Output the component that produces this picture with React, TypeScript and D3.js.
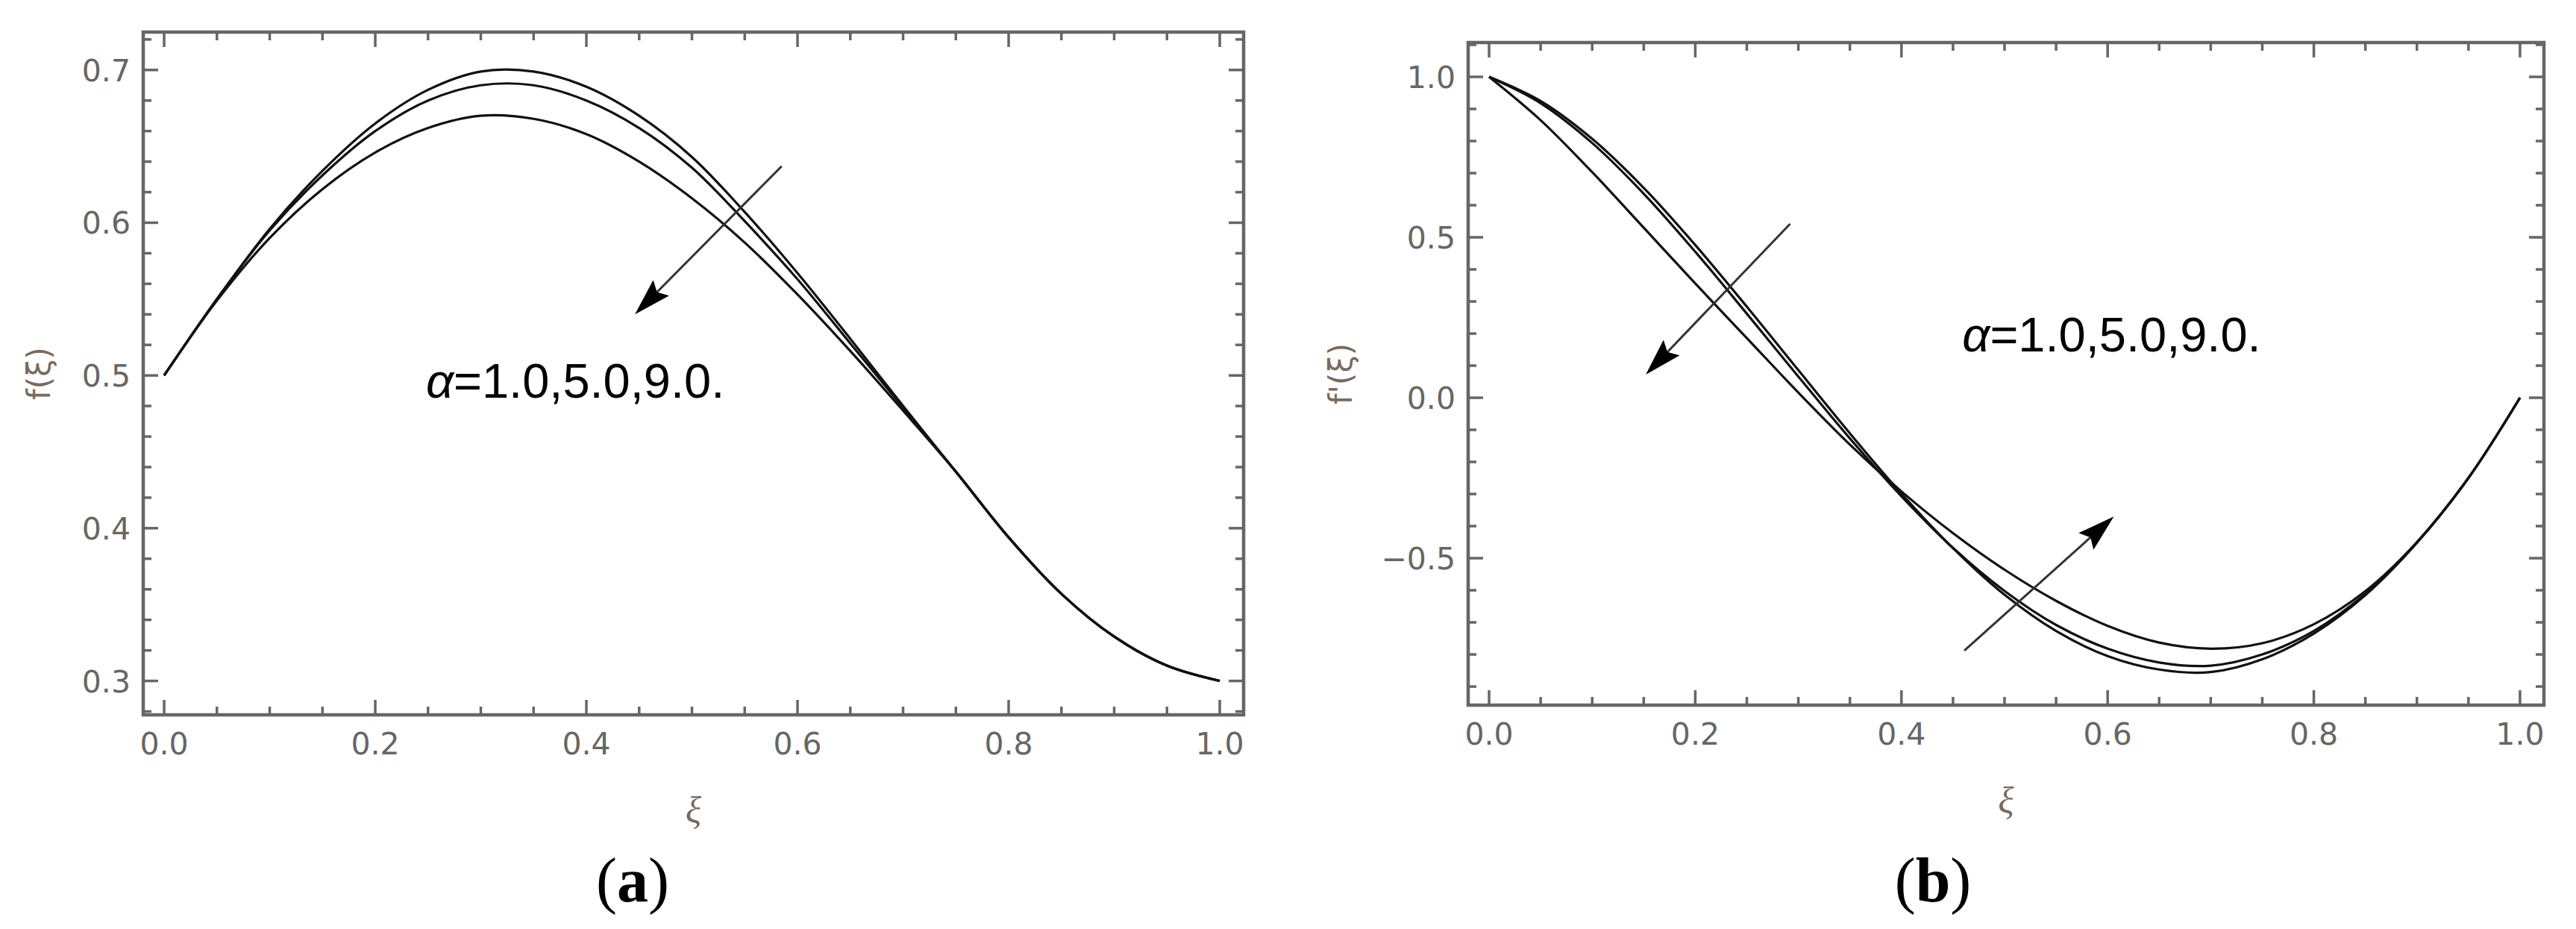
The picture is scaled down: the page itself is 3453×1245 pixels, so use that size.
import React from 'react';
import * as d3 from 'd3';

// ---------- data ----------
const XI = [0, 0.05, 0.1, 0.15, 0.2, 0.25, 0.3, 0.35, 0.4, 0.45, 0.5, 0.55, 0.6, 0.65, 0.7, 0.75, 0.8, 0.85, 0.9, 0.95, 1.0];

// panel (a): f(xi) for alpha = 1, 5, 9
const F_ALPHA_1 = [0.500, 0.550, 0.596, 0.634, 0.665, 0.687, 0.699, 0.699, 0.689, 0.670, 0.643, 0.607, 0.567, 0.524, 0.480, 0.437, 0.394, 0.357, 0.329, 0.310, 0.300];
const F_ALPHA_5 = [0.500, 0.550, 0.595, 0.631, 0.660, 0.680, 0.690, 0.690, 0.680, 0.662, 0.636, 0.601, 0.563, 0.521, 0.479, 0.437, 0.394, 0.357, 0.329, 0.310, 0.300];
const F_ALPHA_9 = [0.500, 0.549, 0.590, 0.622, 0.646, 0.662, 0.670, 0.668, 0.658, 0.640, 0.616, 0.587, 0.553, 0.516, 0.477, 0.437, 0.394, 0.357, 0.329, 0.310, 0.300];

// panel (b): f'(xi) for alpha = 1, 5, 9
const FP_ALPHA_1 = [1.000, 0.925, 0.807, 0.654, 0.476, 0.284, 0.086, -0.111, -0.299, -0.469, -0.614, -0.727, -0.805, -0.847, -0.855, -0.815, -0.735, -0.615, -0.452, -0.250, 0.000];
const FP_ALPHA_5 = [1.000, 0.918, 0.794, 0.636, 0.455, 0.262, 0.066, -0.127, -0.307, -0.468, -0.602, -0.708, -0.782, -0.825, -0.835, -0.800, -0.727, -0.611, -0.451, -0.250, 0.000];
const FP_ALPHA_9 = [1.000, 0.865, 0.703, 0.530, 0.356, 0.186, 0.016, -0.146, -0.292, -0.422, -0.536, -0.633, -0.711, -0.763, -0.782, -0.765, -0.706, -0.603, -0.450, -0.250, 0.000];

const X_TICKS = [0, 0.2, 0.4, 0.6, 0.8, 1.0];
const X_TICK_LABELS = ['0.0', '0.2', '0.4', '0.6', '0.8', '1.0'];
const F_Y_TICKS = [0.3, 0.4, 0.5, 0.6, 0.7];
const F_Y_TICK_LABELS = ['0.3', '0.4', '0.5', '0.6', '0.7'];
const FP_Y_TICKS = [-0.5, 0, 0.5, 1.0];
const FP_Y_TICK_LABELS = ['\u22120.5', '0.0', '0.5', '1.0'];

const ALPHA_VALUES = '=1.0,5.0,9.0.';

// annotations in data units
const F_ARROWS = [{ from: [0.585, 0.637], to: [0.446, 0.540] }];
const FP_ARROWS = [
  { from: [0.292, 0.542], to: [0.152, 0.072] },
  { from: [0.461, -0.788], to: [0.606, -0.370] },
];
const F_TEXT_POS = [0.248, 0.4853];
const FP_TEXT_POS = [0.459, 0.144];

// ---------- styles ----------
const W = 3453;
const H = 1245;
const FRAME = '#666666';
const TICK_FONT = "'DejaVu Sans', Verdana, sans-serif";

type PanelProps = {
  left: number; right: number; top: number; bottom: number;
  xDomain: [number, number]; yDomain: [number, number];
  series: number[][];
  yTicks: number[]; yTickLabels: string[]; yMinorStep: number;
  yLabel: string; yLabelOffset: number;
  arrows: { from: number[]; to: number[] }[];
  textPos: number[];
  panelLabel: string; panelLabelX: number;
};

function Arrow({ x1, y1, x2, y2 }: { x1: number; y1: number; x2: number; y2: number }) {
  const ang = (Math.atan2(y2 - y1, x2 - x1) * 180) / Math.PI;
  const L = 50, Wd = 30, notch = 42;
  const len = Math.hypot(x2 - x1, y2 - y1);
  const ux = (x2 - x1) / len, uy = (y2 - y1) / len;
  return (
    <g>
      <line x1={x1} y1={y1} x2={x2 - ux * notch} y2={y2 - uy * notch} stroke="#333" strokeWidth={3} />
      <path
        d={`M0,0 L${-L},${-Wd / 2} L${-notch},0 L${-L},${Wd / 2} Z`}
        transform={`translate(${x2},${y2}) rotate(${ang})`}
        fill="#000"
      />
    </g>
  );
}

function Panel(p: PanelProps) {
  const x = d3.scaleLinear().domain(p.xDomain).range([p.left, p.right]);
  const y = d3.scaleLinear().domain(p.yDomain).range([p.bottom, p.top]);
  const line = d3
    .line<number>()
    .x((_, i) => x(XI[i]))
    .y((d) => y(d))
    .curve(d3.curveCatmullRom.alpha(0.5));

  const eps = 1e-6;
  const xMinor = d3.range(0, 1.0001, 0.05).filter((v) => !X_TICKS.some((t) => Math.abs(t - v) < eps));
  const yStart = Math.ceil(p.yDomain[0] / p.yMinorStep - eps) * p.yMinorStep;
  const yMinor = d3
    .range(yStart, p.yDomain[1], p.yMinorStep)
    .filter((v) => !p.yTicks.some((t) => Math.abs(t - v) < eps))
    .filter((v) => Math.abs(y(v) - p.top) > 3 && Math.abs(y(v) - p.bottom) > 3);

  const MAJ = 20, MIN = 11;
  const tickW = 3.5;
  const [tx, ty] = [x(p.textPos[0]), y(p.textPos[1])];

  return (
    <g>
      {/* curves */}
      {p.series.map((s, i) => (
        <path key={i} d={line(s) || ''} fill="none" stroke="#111" strokeWidth={3.2} strokeLinejoin="round" />
      ))}
      {/* frame */}
      <rect x={p.left} y={p.top} width={p.right - p.left} height={p.bottom - p.top} fill="none" stroke={FRAME} strokeWidth={4.5} />
      {/* x ticks */}
      {X_TICKS.map((t) => (
        <g key={'xM' + t}>
          <line x1={x(t)} x2={x(t)} y1={p.bottom} y2={p.bottom - MAJ} stroke={FRAME} strokeWidth={tickW} />
          <line x1={x(t)} x2={x(t)} y1={p.top} y2={p.top + MAJ} stroke={FRAME} strokeWidth={tickW} />
        </g>
      ))}
      {xMinor.map((t) => (
        <g key={'xm' + t}>
          <line x1={x(t)} x2={x(t)} y1={p.bottom} y2={p.bottom - MIN} stroke={FRAME} strokeWidth={tickW} />
          <line x1={x(t)} x2={x(t)} y1={p.top} y2={p.top + MIN} stroke={FRAME} strokeWidth={tickW} />
        </g>
      ))}
      {/* y ticks */}
      {p.yTicks.map((t) => (
        <g key={'yM' + t}>
          <line x1={p.left} x2={p.left + MAJ} y1={y(t)} y2={y(t)} stroke={FRAME} strokeWidth={tickW} />
          <line x1={p.right} x2={p.right - MAJ} y1={y(t)} y2={y(t)} stroke={FRAME} strokeWidth={tickW} />
        </g>
      ))}
      {yMinor.map((t) => (
        <g key={'ym' + t.toFixed(3)}>
          <line x1={p.left} x2={p.left + MIN} y1={y(t)} y2={y(t)} stroke={FRAME} strokeWidth={tickW} />
          <line x1={p.right} x2={p.right - MIN} y1={y(t)} y2={y(t)} stroke={FRAME} strokeWidth={tickW} />
        </g>
      ))}
      {/* tick labels */}
      {X_TICKS.map((t, i) => (
        <text key={'xl' + t} x={x(t)} y={p.bottom + 53} textAnchor="middle" fontFamily={TICK_FONT} fontSize={41} fill="#666">
          {X_TICK_LABELS[i]}
        </text>
      ))}
      {p.yTicks.map((t, i) => (
        <text key={'yl' + t} x={p.left - 17} y={y(t) + 15} textAnchor="end" fontFamily={TICK_FONT} fontSize={41} fill="#666">
          {p.yTickLabels[i]}
        </text>
      ))}
      {/* axis labels */}
      <text
        x={(p.left + p.right) / 2}
        y={p.bottom + 128}
        textAnchor="middle"
        dominantBaseline="central"
        fontFamily="'Liberation Serif', serif"
        fontStyle="italic"
        fontSize={50}
        fill="#7a6a5c"
      >
        ξ
      </text>
      <text
        transform={`translate(${p.left - p.yLabelOffset},${(p.top + p.bottom) / 2}) rotate(-90)`}
        textAnchor="middle"
        dominantBaseline="central"
        fontFamily={TICK_FONT}
        fontSize={42}
        fill="#7a6a5c"
      >
        {p.yLabel}
      </text>
      {/* annotation */}
      {p.arrows.map((a, i) => (
        <Arrow key={i} x1={x(a.from[0])} y1={y(a.from[1])} x2={x(a.to[0])} y2={y(a.to[1])} />
      ))}
      <text x={tx} y={ty} fontFamily="'Liberation Sans', Arial, sans-serif" fontSize={65} fill="#000">
        <tspan fontStyle="italic">α</tspan>
        {ALPHA_VALUES}
      </text>
      {/* panel label */}
      <text x={p.panelLabelX} y={1208} textAnchor="middle" fontFamily="'Liberation Serif', 'Times New Roman', serif" fontSize={84} fill="#000">
        (<tspan fontWeight="bold">{p.panelLabel}</tspan>)
      </text>
    </g>
  );
}

export default function App() {
  return (
    <svg
      width={W}
      height={H}
      viewBox={`0 0 ${W} ${H}`}
      style={{ position: 'absolute', left: 0, top: 0, background: '#fff', display: 'block' }}
    >
      <rect x={0} y={0} width={W} height={H} fill="#fff" />
      <Panel
        left={192} right={1667} top={43} bottom={958}
        xDomain={[-0.0198, 1.0226]} yDomain={[0.2778, 0.7248]}
        series={[F_ALPHA_1, F_ALPHA_5, F_ALPHA_9]}
        yTicks={F_Y_TICKS} yTickLabels={F_Y_TICK_LABELS} yMinorStep={0.02}
        yLabel="f(ξ)" yLabelOffset={140}
        arrows={F_ARROWS} textPos={F_TEXT_POS}
        panelLabel="a" panelLabelX={848}
      />
      <Panel
        left={1968} right={3410} top={57} bottom={945}
        xDomain={[-0.0203, 1.0232]} yDomain={[-0.958, 1.107]}
        series={[FP_ALPHA_1, FP_ALPHA_5, FP_ALPHA_9]}
        yTicks={FP_Y_TICKS} yTickLabels={FP_Y_TICK_LABELS} yMinorStep={0.1}
        yLabel="f'(ξ)" yLabelOffset={171}
        arrows={FP_ARROWS} textPos={FP_TEXT_POS}
        panelLabel="b" panelLabelX={2591}
      />
    </svg>
  );
}
